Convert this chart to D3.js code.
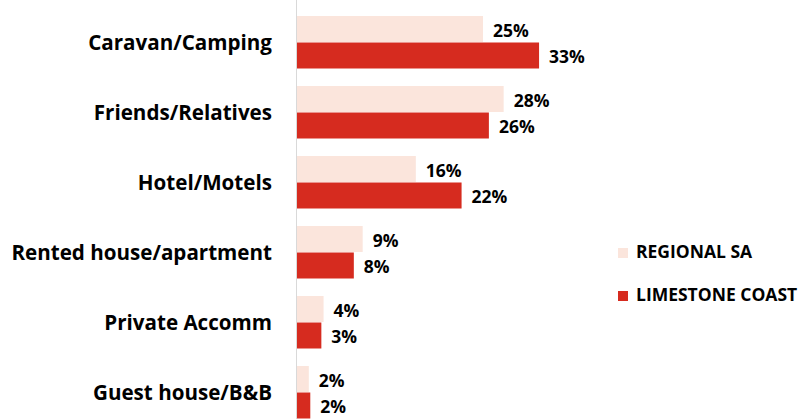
<!DOCTYPE html>
<html>
<head>
<meta charset="utf-8">
<script src="https://cdn.jsdelivr.net/npm/d3@7"></script>
<style>
  body { margin: 0; background: #fff; }
  text { font-family: "Open Sans", "Noto Sans", sans-serif; font-weight: bold; fill: #000; }
</style>
</head>
<body>
<div id="chart"></div>
<script>
const categories = ['Caravan/Camping', 'Friends/Relatives', 'Hotel/Motels', 'Rented house/apartment', 'Private Accomm', 'Guest house/B&B'];
const seriesNames = ['REGIONAL SA', 'LIMESTONE COAST'];
// shares in %, labels shown rounded
const regionalSA = [25.2, 28, 16.1, 8.9, 3.6, 1.6];
const limestoneCoast = [32.8, 26, 22.3, 7.7, 3.3, 1.8];
const colors = ['#FBE5DC', '#D62B1F'];

const width = 802;
const height = 419;

const data = categories.map((c, i) => ({
  name: c,
  values: [
    { key: seriesNames[0], value: regionalSA[i] },
    { key: seriesNames[1], value: limestoneCoast[i] },
  ],
}));

const svg = d3.select('#chart')
  .append('svg')
  .attr('width', width)
  .attr('height', height);

const step = 70;
const pad = 17 / 70;
const plotTop = 16;

const y0 = d3.scaleBand()
  .domain(categories)
  .range([plotTop, plotTop + step * (categories.length - pad)])
  .paddingInner(pad)
  .paddingOuter(0);

const y1 = d3.scaleBand()
  .domain(seriesNames)
  .range([0, y0.bandwidth()]);

const x = d3.scaleLinear()
  .domain([0, 40])
  .range([297, 297 + 7.38 * 40]);

const color = d3.scaleOrdinal().domain(seriesNames).range(colors);

const groups = svg.append('g')
  .selectAll('g')
  .data(data)
  .enter()
  .append('g')
    .attr('transform', (d) => `translate(0,${y0(d.name)})`);

groups.selectAll('rect')
  .data((d) => d.values)
  .enter()
  .append('rect')
    .attr('x', x(0))
    .attr('y', (d) => y1(d.key))
    .attr('width', (d) => x(d.value) - x(0))
    .attr('height', y1.bandwidth() - 0.5)
    .attr('fill', (d) => color(d.key));

groups.selectAll('text.val')
  .data((d) => d.values)
  .enter()
  .append('text')
    .attr('class', 'val')
    .attr('x', (d) => x(d.value) + 10)
    .attr('y', (d) => y1(d.key) + y1.bandwidth() / 2 + 1.5)
    .attr('dy', '0.35em')
    .style('font-size', '17.5px')
    .text((d) => Math.round(d.value) + '%');

// category labels
svg.append('g')
  .selectAll('text')
  .data(categories)
  .enter()
  .append('text')
    .attr('x', 272)
    .attr('y', (d) => y0(d) + y0.bandwidth() / 2)
    .attr('dy', '0.35em')
    .attr('text-anchor', 'end')
    .style('font-size', '20.6px')
    .text((d) => d);

// axis line
svg.append('line')
  .attr('x1', 296.5).attr('x2', 296.5)
  .attr('y1', 0).attr('y2', height)
  .attr('stroke', '#D9D9D9')
  .attr('stroke-width', 1);

// legend
const legend = svg.append('g')
  .selectAll('g')
  .data(seriesNames)
  .enter()
  .append('g')
    .attr('transform', (d, i) => `translate(618,${248 + i * 43})`);

legend.append('rect')
  .attr('width', 10)
  .attr('height', 10)
  .attr('fill', (d) => color(d));

legend.append('text')
  .attr('x', 18)
  .attr('y', 4)
  .attr('dy', '0.35em')
  .style('font-size', '17.5px')
  .text((d) => d);
</script>
</body>
</html>
